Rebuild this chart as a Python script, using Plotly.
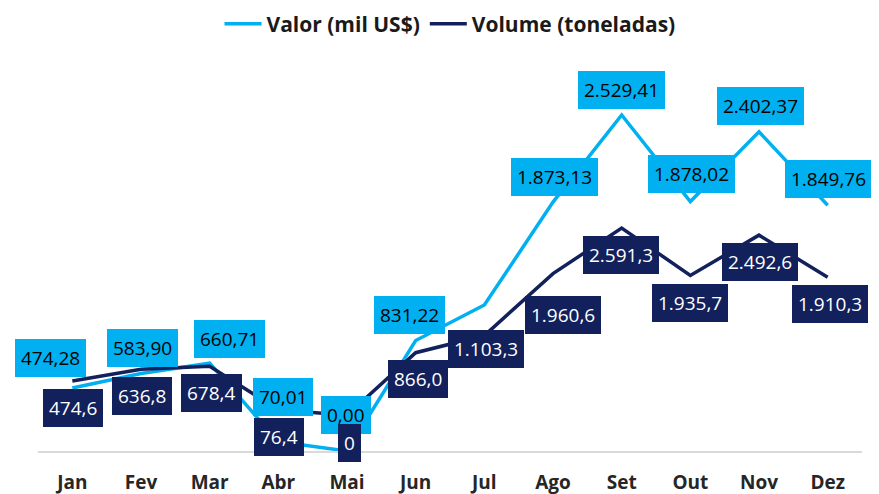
import plotly.graph_objects as go

months = ["Jan", "Fev", "Mar", "Abr", "Mai", "Jun", "Jul", "Ago", "Set", "Out", "Nov", "Dez"]
valor = [474.28, 583.90, 660.71, 70.01, 0.00, 831.22, 1099.0, 1873.13, 2529.41, 1878.02, 2402.37, 1849.76]
volume = [474.6, 636.8, 678.4, 76.4, 0.0, 866.0, 1103.3, 1960.6, 2591.3, 1935.7, 2492.6, 1910.3]
valor_label_shown = [True, True, True, True, True, True, False, True, True, True, True, True]

# label offsets (style): (xshift, yshift) in pixels
valor_offsets = [(-22, 30), (1, 25), (20, 24), (5, 45), (-1, 36), (-6, 26), (0, 0),
                 (1, 25), (0, 25), (1, 27), (1, 26), (1, 26)]
volume_offsets = [(1, -27), (1, -27), (2, -27), (1, -27), (2, -28), (2, -26), (2, -13),
                  (10, -41), (-1, -27), (0, -28), (1, -27), (2, -27)]

LIGHT = "#00B0F0"
NAVY = "#12205C"
FONT = "Open Sans"


def br(v, dec):
    if v == 0 and dec == 1:
        return "0"
    s = f"{v:,.{dec}f}"
    return s.replace(",", "X").replace(".", ",").replace("X", ".")


fig = go.Figure()
fig.add_trace(go.Scatter(x=months, y=valor, mode="lines", name="Valor (mil US$)",
                         line=dict(color=LIGHT, width=3.5), yaxis="y"))
fig.add_trace(go.Scatter(x=months, y=volume, mode="lines", name="Volume (toneladas)",
                         line=dict(color=NAVY, width=3.5), yaxis="y2"))

ann = []
for m, v, show, (dx, dy) in zip(months, valor, valor_label_shown, valor_offsets):
    if not show:
        continue
    ann.append(dict(x=m, y=v, xref="x", yref="y", text=br(v, 2), showarrow=False,
                    xshift=dx, yshift=dy, bgcolor=LIGHT, borderpad=6, borderwidth=0,
                    font=dict(family=FONT, size=19, color="#000000")))
for m, v, (dx, dy) in zip(months, volume, volume_offsets):
    ann.append(dict(x=m, y=v, xref="x", yref="y2", text=br(v, 1), showarrow=False,
                    xshift=dx, yshift=dy, bgcolor=NAVY, borderpad=6, borderwidth=0,
                    font=dict(family=FONT, size=19, color="#FFFFFF")))

# page body has an 8px default margin: figure fills the rest of the 879x494 window
W, H = 871, 486
fig.update_layout(
    width=W, height=H,
    margin=dict(l=30, r=17, t=52, b=43, autoexpand=False),
    paper_bgcolor="white", plot_bgcolor="white",
    showlegend=True,
    legend=dict(orientation="h", x=0.5, xanchor="center", xref="paper",
                y=1 - 16 / H, yanchor="middle", yref="container",
                font=dict(family=FONT, size=21, color="#1a1a1a", weight="bold"),
                itemwidth=37, bgcolor="rgba(0,0,0,0)"),
    xaxis=dict(range=[-0.5, 11.5], showline=True, linecolor="#D9D9D9", linewidth=1.5,
               showgrid=False, zeroline=False, ticks="", ticklen=0, ticklabelstandoff=13,
               tickfont=dict(family=FONT, size=19, color="#262626", weight="bold")),
    yaxis=dict(range=[0, 2943], visible=False, showgrid=False, zeroline=False),
    yaxis2=dict(range=[-494, 4916], overlaying="y", side="right", visible=False,
                showgrid=False, zeroline=False),
    annotations=ann,
)

fig.write_html("out.html")
